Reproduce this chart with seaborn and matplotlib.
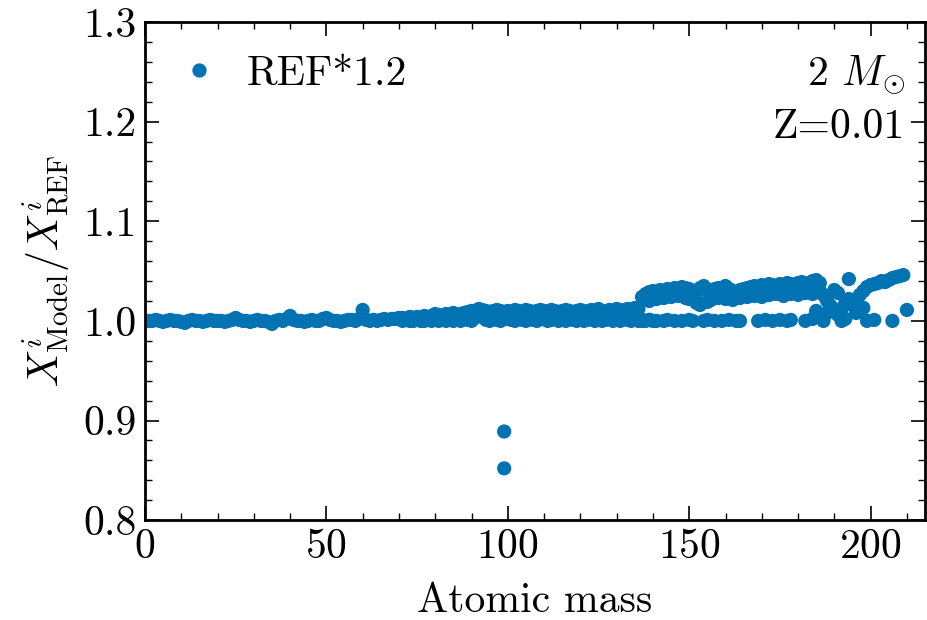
import numpy as np
import pandas as pd
import seaborn as sns
import matplotlib.pyplot as plt
from matplotlib.ticker import MultipleLocator, FormatStrFormatter

# ---- data ----
# light nuclei, ratio stays at ~1
mass_low = [1, 2, 3, 4, 5, 6, 7, 8, 9, 10, 11, 12, 13, 14, 15, 16, 17, 18, 19, 20,
            21, 22, 23, 24, 25, 26, 27, 28, 29, 30, 31, 32, 33, 34, 35, 36, 37, 38, 39, 40,
            41, 42, 43, 44, 45, 46, 47, 48, 49, 50, 51, 52, 53, 54, 55, 56, 57, 58, 59, 60,
            61, 62, 63, 64, 65, 66, 67, 68, 69, 70]
ratio_low = [1.000, 1.000, 1.001, 1.000, 0.999, 1.000, 1.001, 1.000, 1.000, 0.999,
             0.998, 1.000, 1.001, 1.000, 1.000, 0.999, 1.000, 1.001, 1.000, 1.000,
             1.000, 0.999, 1.000, 1.001, 1.003, 1.001, 1.000, 1.000, 0.999, 1.000,
             1.001, 1.000, 1.000, 0.999, 0.997, 1.000, 1.001, 1.000, 1.002, 1.005,
             1.001, 1.000, 1.000, 0.999, 1.000, 1.001, 1.000, 1.000, 1.002, 1.003,
             1.001, 1.000, 1.000, 0.999, 1.000, 1.001, 1.001, 1.000, 1.002, 1.011,
             1.001, 1.000, 1.001, 1.000, 1.001, 1.002, 1.001, 1.002, 1.002, 1.003]

# intermediate masses, upper isotopes
mass_mid = [71, 72, 73, 74, 75, 76, 77, 78, 79, 80, 81, 82, 83, 84, 85, 86, 87, 88, 89, 90,
            91, 92, 93, 94, 95, 96, 97, 98, 99, 100, 101, 102, 103, 104, 105, 106, 107, 108, 109, 110,
            111, 112, 113, 114, 115, 116, 117, 118, 119, 120, 121, 122, 123, 124, 125, 126, 127, 128, 129, 130,
            131, 132, 133, 134, 135, 136]
ratio_mid = [1.003, 1.002, 1.004, 1.003, 1.004, 1.003, 1.005, 1.004, 1.005, 1.007,
             1.006, 1.005, 1.007, 1.006, 1.008, 1.006, 1.007, 1.008, 1.009, 1.010,
             1.009, 1.012, 1.011, 1.010, 1.009, 1.010, 1.011, 1.010, 1.008, 1.010,
             1.009, 1.011, 1.010, 1.009, 1.011, 1.010, 1.009, 1.010, 1.011, 1.010,
             1.009, 1.011, 1.010, 1.009, 1.010, 1.011, 1.010, 1.009, 1.010, 1.011,
             1.010, 1.009, 1.011, 1.010, 1.012, 1.010, 1.009, 1.011, 1.010, 1.012,
             1.011, 1.010, 1.012, 1.011, 1.013, 1.012]

# intermediate masses, isotopes staying near 1
mass_mid_b = [71, 72, 73, 74, 75, 76, 77, 78, 79, 80, 81, 82, 83, 84, 85, 86, 87, 88, 89, 90,
              91, 92, 93, 94, 95, 96, 97, 98, 100, 101, 102, 103, 104, 105, 106, 107, 108, 109, 110,
              111, 112, 113, 114, 115, 116, 117, 118, 119, 120, 121, 122, 123, 124, 125, 126, 127, 128, 129, 130,
              131, 132, 133, 134, 135, 136, 137, 138, 139, 140]
ratio_mid_b = [1.000, 1.001, 1.000, 1.000, 1.001, 1.000, 1.000, 1.001, 1.000, 1.001,
               1.000, 1.001, 1.000, 1.002, 1.000, 1.001, 1.000, 1.002, 1.001, 1.000,
               1.003, 1.005, 1.006, 1.001, 1.000, 1.004, 1.001, 1.000, 1.002, 1.001,
               1.000, 1.005, 1.001, 1.000, 1.004, 1.001, 1.000, 1.002, 1.006, 1.000,
               1.001, 1.004, 1.000, 1.001, 1.000, 1.005, 1.001, 1.000, 1.003, 1.000,
               1.001, 1.006, 1.000, 1.002, 1.000, 1.001, 1.004, 1.000, 1.001, 1.000,
               1.005, 1.001, 1.000, 1.002, 1.000, 1.001, 1.000, 1.001, 1.000]

# heavy masses, enhanced branch (upper isotopes)
mass_up = [137, 138, 139, 140, 141, 142, 143, 144, 145, 146, 147, 148, 149, 150, 151, 152, 153, 154, 155, 156,
           157, 158, 159, 160, 161, 162, 163, 164, 165, 166, 167, 168, 169, 170, 171, 172, 173, 174, 175, 176,
           177, 178, 179, 180, 181, 182, 183, 184, 185, 186]
ratio_up = [1.024, 1.027, 1.029, 1.030, 1.029, 1.031, 1.030, 1.032, 1.031, 1.033,
            1.032, 1.034, 1.033, 1.032, 1.030, 1.028, 1.033, 1.035, 1.031, 1.029,
            1.032, 1.033, 1.031, 1.035, 1.032, 1.030, 1.029, 1.031, 1.032, 1.033,
            1.034, 1.035, 1.034, 1.036, 1.035, 1.037, 1.036, 1.035, 1.037, 1.036,
            1.038, 1.037, 1.036, 1.038, 1.039, 1.037, 1.038, 1.040, 1.041, 1.038]

# heavy masses, second set of enhanced isotopes
mass_up_b = [139, 141, 143, 145, 147, 149, 150, 152, 153, 155, 156, 158, 160, 162, 164, 166, 168, 170, 172, 174,
             176, 178, 180, 182, 184]
ratio_up_b = [1.020, 1.022, 1.023, 1.024, 1.025, 1.023, 1.022, 1.018, 1.016, 1.019, 1.021, 1.023,
              1.022, 1.021, 1.023, 1.024, 1.025, 1.024, 1.026, 1.027, 1.025, 1.027,
              1.026, 1.028, 1.027]

# heavy masses near 1
mass_flat = [137, 139, 141, 143, 144, 146, 148, 150, 151, 154, 155, 157, 159, 161, 163, 164, 169, 171, 173, 175,
             177, 178, 182, 184, 187, 192, 193, 199, 201, 206]
ratio_flat = [1.000, 1.001, 1.000, 1.000, 1.001, 1.000, 1.000, 1.001, 1.000, 1.000,
              1.001, 1.000, 1.000, 1.001, 1.000, 1.000, 1.000, 1.001, 1.000, 1.001,
              1.000, 1.001, 1.000, 1.002, 1.000, 1.000, 1.002, 1.000, 1.001, 1.000]

# heaviest masses, crossing branches
mass_top = [186, 187, 188, 189, 190, 191, 192, 193, 194, 194, 195, 196, 197, 198, 199, 200,
            201, 202, 203, 204, 205, 206, 207, 208, 209, 210, 185, 188, 190, 191, 196, 198]
ratio_top = [1.030, 1.026, 1.020, 1.015, 1.010, 1.006, 1.012, 1.018, 1.022, 1.042, 1.016, 1.020, 1.026, 1.030, 1.034, 1.036,
             1.037, 1.038, 1.040, 1.039, 1.041, 1.043, 1.044, 1.045, 1.046, 1.011, 1.010, 1.008, 1.031, 1.028,
             1.008, 1.013]

# the two low points at A~99
mass_out = [99, 99]
ratio_out = [0.889, 0.852]

df = pd.DataFrame({
    'mass': mass_low + mass_mid + mass_mid_b + mass_up + mass_up_b + mass_flat + mass_top + mass_out,
    'ratio': ratio_low + ratio_mid + ratio_mid_b + ratio_up + ratio_up_b + ratio_flat + ratio_top + ratio_out,
})
df['label'] = 'REF*1.2'

# ---- style ----
sns.set_style('ticks')
plt.rcParams['font.family'] = 'serif'
plt.rcParams['font.serif'] = ['cmr10']
plt.rcParams['mathtext.fontset'] = 'cm'
plt.rcParams['axes.formatter.use_mathtext'] = True
plt.rcParams['axes.unicode_minus'] = False
for key in ['text.color', 'axes.labelcolor', 'xtick.color', 'ytick.color', 'axes.edgecolor']:
    plt.rcParams[key] = 'black'

fig = plt.figure(figsize=(9.27, 6.2), dpi=100)
ax = fig.add_axes([0.1564, 0.161, 0.8415, 0.8035])

blue = sns.color_palette('colorblind')[0]
sns.scatterplot(data=df, x='mass', y='ratio', hue='label', palette=[blue],
                s=105, edgecolor='none', ax=ax)

ax.set_xlim(0, 215)
ax.set_ylim(0.8, 1.3)
ax.xaxis.set_major_locator(MultipleLocator(50))
ax.xaxis.set_minor_locator(MultipleLocator(10))
ax.yaxis.set_major_locator(MultipleLocator(0.1))
ax.yaxis.set_minor_locator(MultipleLocator(0.02))
ax.yaxis.set_major_formatter(FormatStrFormatter('%.1f'))
ax.tick_params(which='both', direction='in', top=True, right=True)
ax.tick_params(which='major', length=10, width=1.2, labelsize=30, pad=6)
ax.tick_params(which='minor', length=5, width=1)
for sp in ax.spines.values():
    sp.set_linewidth(2)

ax.set_xlabel('Atomic mass', fontsize=30, labelpad=12)
ax.set_ylabel(r'$X^i_{\mathrm{Model}}/X^i_{\mathrm{REF}}$', fontsize=30, labelpad=8)

ax.legend(loc='upper left', frameon=False, fontsize=30, markerscale=1.0,
          handlelength=1.0, handletextpad=0.65, borderaxespad=0.4)

ax.text(0.974, 0.894, r'2 $M_{\odot}$', transform=ax.transAxes,
        ha='right', va='center', fontsize=30)
ax.text(0.974, 0.789, 'Z=0.01', transform=ax.transAxes,
        ha='right', va='center', fontsize=30)

fig.savefig('out.png', dpi=100)
